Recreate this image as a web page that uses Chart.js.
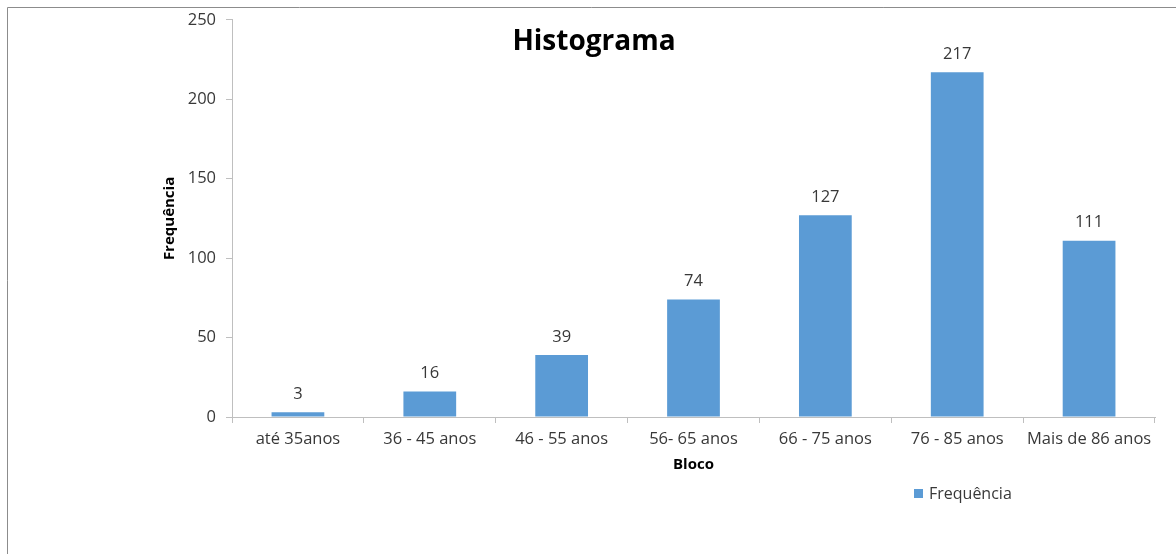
<!DOCTYPE html>
<html>
<head>
<meta charset="utf-8">
<script src="https://cdn.jsdelivr.net/npm/chart.js@4/dist/chart.umd.min.js"></script>
<style>
  html, body { margin: 0; padding: 0; background: #ffffff; }
  #wrap { position: relative; width: 1176px; height: 554px; }
  canvas { display: block; }
</style>
</head>
<body>
<div id="wrap"><canvas id="chart" width="1176" height="554"></canvas></div>
<script>
// Age brackets and how many people fall into each
const categories = ['até 35anos', '36 - 45 anos', '46 - 55 anos', '56- 65 anos', '66 - 75 anos', '76 - 85 anos', 'Mais de 86 anos'];
const frequencies = [3, 16, 39, 74, 127, 217, 111];
const yTicks = [0, 50, 100, 150, 200, 250];

const seriesName = 'Frequência';
const chartTitle = 'Histograma';
const xTitle = 'Bloco';
const yTitle = 'Frequência';

const FONT = "'Open Sans', 'DejaVu Sans', sans-serif";
const TEXT = '#383838';
const AXIS = '#bfbfbf';
const BAR = '#5b9bd5';

// Frame, headings, value labels and legend drawn on top of the chart
const decorations = {
  id: 'decorations',
  afterDraw(chart) {
    const { ctx, chartArea } = chart;
    ctx.save();

    // outer frame (top and left edges)
    ctx.strokeStyle = '#8c8c8c';
    ctx.lineWidth = 1;
    ctx.beginPath();
    ctx.moveTo(7.5, 554);
    ctx.lineTo(7.5, 7.5);
    ctx.lineTo(1176, 7.5);
    ctx.stroke();

    // chart title
    ctx.fillStyle = '#000000';
    ctx.font = `bold 28px ${FONT}`;
    ctx.textAlign = 'center';
    ctx.textBaseline = 'middle';
    ctx.fillText(chartTitle, 594, 42);

    // value labels above bars
    ctx.fillStyle = TEXT;
    ctx.font = `16.5px ${FONT}`;
    ctx.textBaseline = 'middle';
    const meta = chart.getDatasetMeta(0);
    meta.data.forEach((bar, i) => {
      ctx.fillText(String(frequencies[i]), bar.x, bar.y - 18);
    });

    // x axis title
    ctx.fillStyle = '#000000';
    ctx.font = `bold 15px ${FONT}`;
    ctx.fillText(xTitle, (chartArea.left + chartArea.right) / 2, 465);

    // y axis title
    ctx.save();
    ctx.translate(170, (chartArea.top + chartArea.bottom) / 2);
    ctx.rotate(-Math.PI / 2);
    ctx.fillText(yTitle, 0, 0);
    ctx.restore();

    // legend
    ctx.fillStyle = BAR;
    ctx.fillRect(914, 489, 9, 9);
    ctx.fillStyle = TEXT;
    ctx.font = `16px ${FONT}`;
    ctx.textAlign = 'left';
    ctx.fillText(seriesName, 929, 494);

    ctx.restore();
  }
};

new Chart(document.getElementById('chart'), {
  type: 'bar',
  data: {
    labels: categories,
    datasets: [{
      label: seriesName,
      data: frequencies,
      backgroundColor: BAR,
      borderWidth: 0,
      categoryPercentage: 0.4,
      barPercentage: 1.0
    }]
  },
  options: {
    responsive: false,
    animation: false,
    events: [],
    layout: { padding: { left: 0, top: 17, right: 21, bottom: 0 } },
    plugins: {
      legend: { display: false },
      title: { display: false },
      tooltip: { enabled: false }
    },
    scales: {
      x: {
        offset: true,
        grid: { display: true, drawOnChartArea: false, drawTicks: true, tickLength: 6, color: AXIS, offset: true },
        border: { display: true, color: AXIS, width: 1 },
        ticks: { color: TEXT, font: { family: FONT, size: 16.5 }, padding: 6, maxRotation: 0, autoSkip: false },
        afterFit(scale) { scale.height = 137; }
      },
      y: {
        min: 0,
        max: 250,
        afterBuildTicks(scale) { scale.ticks = yTicks.map(v => ({ value: v })); },
        grid: { display: true, drawOnChartArea: false, drawTicks: true, tickLength: 6, color: AXIS },
        border: { display: true, color: AXIS, width: 1 },
        ticks: { color: TEXT, font: { family: FONT, size: 16.5 }, padding: 10 },
        afterFit(scale) { scale.width = 232; }
      }
    }
  },
  plugins: [decorations]
});
</script>
</body>
</html>
